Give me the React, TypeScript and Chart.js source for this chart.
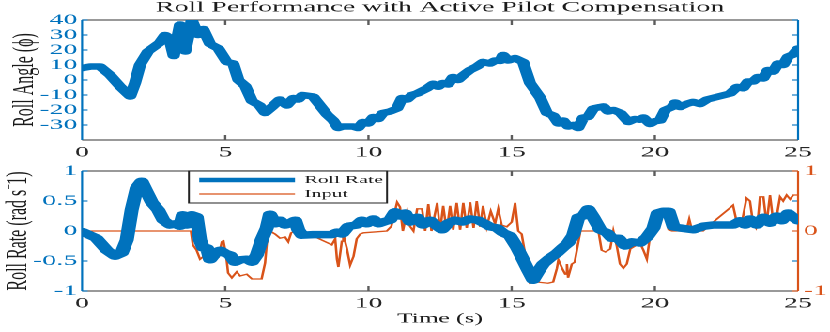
import React, { useEffect, useRef } from 'react';
import { Chart, registerables } from 'chart.js';

Chart.register(...registerables);

// ---------- data ----------
const xTickValues = [0, 5, 10, 15, 20, 25];
const angleTickValues = [-30, -20, -10, 0, 10, 20, 30, 40];
const rateTickValues = [-1, -0.5, 0, 0.5, 1];
const inputTickValues = [-1, 0, 1];

const titleText = 'Roll Performance with Active Pilot Compensation';
const angleLabel = 'Roll Angle (ϕ)';
const rateLabel = 'Roll Rate (rad s⁻1)';
const timeLabel = 'Time (s)';
const seriesNames = ['Roll Rate', 'Input'];

// [time s, roll angle]
const rollAngleData: [number, number][] = [
  [0, 8], [0.3, 9], [0.63, 9], [0.98, 3.3], [1.33, -4.4], [1.68, -11], [1.85, -2], [2.02, 10],
  [2.3, 19], [2.72, 25], [2.9, 30], [3.05, 28], [3.2, 16], [3.42, 37], [3.6, 19], [3.83, 40],
  [4.05, 30], [4.23, 34], [4.47, 24], [4.76, 21], [5.05, 12], [5.28, 11], [5.46, 0], [5.7, -4],
  [5.93, -14], [6.2, -17], [6.39, -22], [6.63, -18], [6.9, -13], [7.15, -17], [7.38, -12],
  [7.55, -13], [7.7, -10], [8.07, -11], [8.55, -23], [8.77, -27], [8.94, -32], [9.1, -31],
  [9.47, -31], [9.64, -32], [9.81, -28], [9.99, -29], [10.17, -24.7], [10.34, -26], [10.5, -22],
  [10.75, -21], [11.0, -19], [11.17, -12], [11.35, -13], [11.52, -10], [11.7, -9], [12.05, -5.5],
  [12.26, -2.5], [12.43, -4.5], [12.6, -2], [12.78, -3], [12.95, 2], [13.13, 0], [13.3, 3],
  [13.55, 6.7], [13.79, 9], [14.0, 12], [14.24, 11], [14.42, 13], [14.6, 12.7], [14.7, 16.7],
  [14.88, 13], [15.12, 14.6], [15.4, 12], [15.64, -2], [16.0, -12], [16.23, -22], [16.45, -23.7],
  [16.63, -29], [16.8, -27], [16.97, -31], [17.15, -30], [17.32, -32], [17.5, -25], [17.67, -24.6],
  [17.85, -19], [18.09, -18], [18.2, -17.6], [18.37, -21], [18.55, -20], [18.8, -22], [19.07, -28],
  [19.3, -26], [19.48, -26.5], [19.6, -25], [19.83, -29.3], [20.0, -27.5], [20.18, -27],
  [20.36, -20], [20.6, -18], [20.71, -15], [20.88, -18], [21.1, -16], [21.33, -14.6], [21.58, -16],
  [21.82, -13], [22.63, -9], [22.87, -4.6], [23.08, -5.5], [23.25, -1], [23.43, -1], [23.6, 2],
  [23.78, 1], [23.95, 6.7], [24.13, 5.6], [24.3, 11], [24.48, 10], [24.65, 15.6], [24.83, 17],
  [25.0, 21],
];

// [time s, roll rate]
const rollRateData: [number, number][] = [
  [0, -0.01], [0.5, -0.12], [0.86, -0.32], [1.15, -0.42], [1.38, -0.37], [1.56, -0.15],
  [1.73, 0.35], [1.91, 0.72], [2.08, 0.83], [2.26, 0.65], [2.43, 0.48], [2.66, 0.35], [2.84, 0.18],
  [3.07, 0.1], [3.25, 0.12], [3.42, 0.08], [3.52, 0.27], [3.66, 0.1], [3.83, 0.27], [4.0, 0.24],
  [4.12, -0.15], [4.23, -0.28], [4.36, -0.28], [4.47, -0.48], [4.64, -0.37], [4.82, -0.32],
  [4.99, -0.37], [5.17, -0.4], [5.34, -0.52], [5.52, -0.48], [5.76, -0.47], [5.93, -0.52],
  [6.1, -0.4], [6.27, -0.15], [6.45, 0.05], [6.56, 0.28], [6.74, 0.12], [6.91, 0.18], [7.09, 0.1],
  [7.26, 0.13], [7.44, 0.18], [7.55, 0.02], [7.68, -0.07], [8.07, -0.06], [8.72, -0.06],
  [8.9, -0.02], [9.08, -0.05], [9.3, 0.08], [9.59, 0.1], [9.77, 0.18], [9.94, 0.12], [10.17, 0.2],
  [10.35, 0.12], [10.58, 0.16], [10.75, 0.18], [10.93, 0.32], [11.1, 0.25], [11.28, 0.3],
  [11.45, 0.15], [11.7, 0.23], [11.9, 0.1], [12.15, 0.18], [12.4, 0.08], [12.57, 0.02],
  [12.78, 0.13], [13.02, 0.18], [13.27, 0.15], [13.55, 0.2], [13.83, 0.18], [14.07, 0.12],
  [14.25, 0.07], [14.49, 0.05], [14.7, -0.03], [14.94, -0.08], [15.18, -0.27], [15.4, -0.48],
  [15.57, -0.65], [15.75, -0.82], [15.92, -0.68], [16.1, -0.55], [16.34, -0.45], [16.58, -0.37],
  [16.8, -0.27], [16.97, -0.2], [17.15, -0.07], [17.33, 0.23], [17.5, 0.25], [17.67, 0.37],
  [17.85, 0.23], [18.09, 0.02], [18.33, -0.03], [18.5, -0.12], [18.73, -0.12], [18.96, -0.25],
  [19.2, -0.18], [19.48, -0.2], [19.73, -0.1], [19.95, 0.05], [20.1, 0.3], [20.3, 0.33],
  [20.48, 0.33], [20.65, 0.07], [20.88, 0.05], [21.35, 0.02], [21.7, 0.08], [22.03, 0.1],
  [22.73, 0.1], [22.97, 0.17], [23.15, 0.1], [23.32, 0.2], [23.56, 0.1], [23.79, 0.23],
  [24.02, 0.13], [24.25, 0.25], [24.43, 0.17], [24.65, 0.3], [24.83, 0.23], [25.0, 0.17],
];

// [time s, pilot input]
const inputData: [number, number][] = [
  [0, 0], [3.8, 0], [3.87, -0.23], [4.0, -0.32], [4.12, -0.47], [4.3, -0.4], [4.4, -0.48],
  [4.58, -0.4], [4.76, -0.43], [4.88, -0.18], [4.93, -0.15], [5.03, -0.4], [5.1, -0.7],
  [5.23, -0.78], [5.4, -0.68], [5.52, -0.75], [5.75, -0.72], [5.93, -0.8], [6.27, -0.8],
  [6.39, -0.53], [6.45, -0.2], [6.56, 0], [6.74, -0.05], [6.91, -0.12], [7.09, -0.1], [7.2, -0.18],
  [7.3, -0.03], [7.44, 0], [7.72, 0], [8.72, -0.23], [8.84, -0.13], [8.9, -0.47], [8.95, -0.6],
  [9.07, -0.17], [9.12, -0.05], [9.25, -0.3], [9.36, -0.57], [9.48, -0.42], [9.59, -0.13],
  [9.71, -0.05], [9.83, -0.03], [10.64, 0], [10.8, 0.08], [11.0, 0.48], [11.1, 0.4], [11.2, 0],
  [11.35, 0.33], [11.45, 0.08], [11.57, 0], [11.7, 0.37], [11.87, 0.37], [11.98, 0], [12.09, 0.45],
  [12.2, 0], [12.4, 0.47], [12.5, 0], [12.61, 0.42], [12.73, 0], [12.85, 0.42], [12.96, 0.02],
  [13.08, 0.47], [13.2, 0.02], [13.31, 0.47], [13.43, 0.05], [13.55, 0.48], [13.67, 0.05],
  [13.78, 0.5], [13.9, 0.07], [14.0, 0.42], [14.13, 0.07], [14.27, 0.33], [14.42, 0.12],
  [14.53, 0.37], [14.65, 0.1], [14.83, 0.07], [15.0, 0.15], [15.12, 0.47], [15.23, 0],
  [15.35, -0.05], [15.64, -0.87], [15.88, -0.85], [16.27, -0.87], [16.45, -0.85], [16.58, -0.62],
  [16.63, -0.48], [16.76, -0.62], [16.87, -0.72], [16.93, -0.55], [16.97, -0.78], [17.1, -0.55],
  [17.2, -0.52], [17.33, -0.18], [17.4, 0], [18.03, 0], [18.14, -0.32], [18.27, -0.35],
  [18.44, -0.3], [18.55, 0], [18.67, -0.25], [18.78, -0.55], [18.9, -0.62], [19.02, -0.55],
  [19.14, -0.3], [19.48, -0.2], [19.6, -0.32], [19.72, -0.47], [19.83, -0.08], [19.95, 0.02],
  [20.12, 0.13], [20.25, 0.3], [20.36, 0.35], [20.48, 0.02], [20.6, 0], [21.1, 0], [21.2, 0.2],
  [21.3, 0], [21.68, 0], [22.73, 0.43], [22.87, 0.12], [23.03, 0.12], [23.2, 0.55], [23.32, 0.5],
  [23.43, 0.12], [23.53, 0.05], [23.6, 0.2], [23.67, 0.57], [23.79, 0.57], [23.9, 0.12],
  [24.02, 0.6], [24.13, 0.17], [24.25, 0.23], [24.37, 0.57], [24.48, 0.5], [24.6, 0.6],
  [24.72, 0.53], [24.83, 0.6], [25, 0.6],
];

// ---------- style ----------
const W = 442;
const SX = 830 / W;
const TOP_H = 165;
const BOT_H = 167;
const BLUE = '#0072BD';
const ORANGE = '#D95319';
const GRAY = '#5c5c5c';
const INK = '#1a1a1a';
const FONT = "'Liberation Serif', 'Times New Roman', serif";
const Y_AXIS_W = 43.7;
const PLOT_RIGHT_GAP = 17;

const toXY = (d: [number, number][]) => d.map(([x, y]) => ({ x, y }));
const fixedTicks = (vals: number[]) => (s: any) => {
  s.ticks = vals.map((v) => ({ value: v }));
};
const plainLabel = (v: any) => String(Number(v));

type FrameOpts = {
  leftColor: string;
  leftTicks: number[];
  rightSegs: { color: string; ticks: number[]; scale: string }[];
  rightColor: string;
};

function framePlugin(o: FrameOpts) {
  return {
    id: 'frame',
    beforeDatasetsDraw(chart: any) {
      const { ctx, chartArea: a, scales } = chart;
      const ln = (x1: number, y1: number, x2: number, y2: number) => {
        ctx.beginPath();
        ctx.moveTo(x1, y1);
        ctx.lineTo(x2, y2);
        ctx.stroke();
      };
      ctx.save();
      ctx.lineCap = 'butt';
      ctx.strokeStyle = GRAY;
      ctx.lineWidth = 1.2;
      ln(a.left, a.top, a.right, a.top);
      ln(a.left, a.bottom, a.right, a.bottom);
      for (const v of xTickValues) {
        if (v === 0 || v === 25) continue;
        const px = scales.x.getPixelForValue(v);
        ln(px, a.top, px, a.top + 5);
        ln(px, a.bottom, px, a.bottom - 5);
      }
      ctx.lineWidth = 1.1;
      ctx.strokeStyle = o.leftColor;
      ln(a.left, a.top, a.left, a.bottom);
      for (const v of o.leftTicks) {
        const py = scales.y.getPixelForValue(v);
        ln(a.left, py, a.left + 3, py);
      }
      for (const seg of o.rightSegs) {
        ctx.strokeStyle = seg.color;
        for (const v of seg.ticks) {
          const py = scales[seg.scale].getPixelForValue(v);
          ln(a.right, py, a.right - 3, py);
        }
      }
      ctx.strokeStyle = o.rightColor;
      ln(a.right, a.top, a.right, a.bottom);
      ctx.restore();
    },
  };
}

const legendPlugin = {
  id: 'boxLegend',
  afterDatasetsDraw(chart: any) {
    const { ctx, chartArea: a } = chart;
    const x0 = 100.6;
    const y0 = a.top;
    const w = 105.5;
    const h = 32;
    ctx.save();
    ctx.fillStyle = '#ffffff';
    ctx.fillRect(x0, y0, w, h);
    ctx.strokeStyle = '#222';
    ctx.lineWidth = 1;
    ctx.strokeRect(x0, y0, w, h);
    ctx.lineCap = 'butt';
    ctx.strokeStyle = BLUE;
    ctx.lineWidth = 4.5;
    ctx.beginPath();
    ctx.moveTo(x0 + 5.5, y0 + 9);
    ctx.lineTo(x0 + 56.5, y0 + 9);
    ctx.stroke();
    ctx.strokeStyle = ORANGE;
    ctx.lineWidth = 1.2;
    ctx.beginPath();
    ctx.moveTo(x0 + 5.5, y0 + 23);
    ctx.lineTo(x0 + 56.5, y0 + 23);
    ctx.stroke();
    ctx.fillStyle = INK;
    ctx.font = `11px ${FONT}`;
    ctx.textBaseline = 'middle';
    ctx.textAlign = 'left';
    ctx.fillText(seriesNames[0], x0 + 61.5, y0 + 9);
    ctx.fillText(seriesNames[1], x0 + 61.5, y0 + 23);
    ctx.restore();
  },
};

const noGrid = { display: false, drawTicks: false, drawOnChartArea: false };

export default function App() {
  const topRef = useRef<HTMLCanvasElement>(null);
  const botRef = useRef<HTMLCanvasElement>(null);

  useEffect(() => {
    Chart.defaults.font.family = FONT;
    const top = new Chart(topRef.current!, {
      type: 'line',
      data: {
        datasets: [
          {
            label: 'Roll Angle',
            data: toXY(rollAngleData),
            borderColor: BLUE,
            borderWidth: 6.5,
            pointRadius: 0,
            tension: 0,
            fill: false,
            borderJoinStyle: 'round',
            borderCapStyle: 'round',
          },
        ],
      },
      options: {
        animation: false,
        responsive: false,
        devicePixelRatio: 2,
        layout: { padding: { top: 0, right: PLOT_RIGHT_GAP, left: 0, bottom: 0 } },
        plugins: {
          legend: { display: false },
          tooltip: { enabled: false },
          title: {
            display: true,
            fullSize: false,
            text: titleText,
            color: INK,
            font: { family: FONT, size: 15, weight: 'normal', lineHeight: 1 },
            padding: { top: 0, bottom: 5 },
          },
        },
        scales: {
          x: {
            type: 'linear',
            min: 0,
            max: 25,
            afterBuildTicks: fixedTicks(xTickValues),
            afterFit: (s: any) => {
              s.height = TOP_H - 140;
              s.paddingLeft = 0;
              s.paddingRight = 0;
            },
            grid: noGrid,
            border: { display: false },
            ticks: {
              color: '#262626',
              padding: 3.5,
              autoSkip: false,
              maxRotation: 0,
              font: { size: 15 },
              callback: plainLabel,
            },
          },
          y: {
            type: 'linear',
            min: -40,
            max: 40,
            afterBuildTicks: fixedTicks(angleTickValues),
            afterFit: (s: any) => {
              s.width = Y_AXIS_W;
              s.paddingTop = 0;
              s.paddingBottom = 0;
            },
            grid: noGrid,
            border: { display: false },
            ticks: { color: BLUE, padding: 2.5, autoSkip: false, font: { size: 15 }, callback: plainLabel },
            title: {
              display: true,
              text: angleLabel,
              color: INK,
              font: { size: 16 },
              padding: { top: 3.7, bottom: 0 },
            },
          },
        },
      },
      plugins: [
        framePlugin({
          leftColor: BLUE,
          leftTicks: angleTickValues,
          rightSegs: [{ color: BLUE, ticks: angleTickValues, scale: 'y' }],
          rightColor: BLUE,
        }),
      ],
    } as any);

    const bot = new Chart(botRef.current!, {
      type: 'line',
      data: {
        datasets: [
          {
            label: seriesNames[0],
            data: toXY(rollRateData),
            borderColor: BLUE,
            borderWidth: 7.5,
            pointRadius: 0,
            tension: 0,
            fill: false,
            yAxisID: 'y',
            borderJoinStyle: 'round',
            borderCapStyle: 'round',
          },
          {
            label: seriesNames[1],
            data: toXY(inputData),
            borderColor: ORANGE,
            borderWidth: 1.3,
            pointRadius: 0,
            tension: 0,
            fill: false,
            yAxisID: 'y2',
          },
        ],
      },
      options: {
        animation: false,
        responsive: false,
        devicePixelRatio: 2,
        layout: { padding: { top: 6, right: 0, left: 0, bottom: 0 } },
        plugins: {
          legend: { display: false },
          tooltip: { enabled: false },
          title: { display: false },
        },
        scales: {
          x: {
            type: 'linear',
            fullSize: false,
            min: 0,
            max: 25,
            afterBuildTicks: fixedTicks(xTickValues),
            afterFit: (s: any) => {
              s.height = BOT_H - 126;
              s.paddingLeft = 0;
              s.paddingRight = 0;
            },
            grid: noGrid,
            border: { display: false },
            ticks: {
              color: '#262626',
              padding: 3.5,
              autoSkip: false,
              maxRotation: 0,
              font: { size: 15 },
              callback: plainLabel,
            },
            title: {
              display: true,
              text: timeLabel,
              color: INK,
              font: { size: 13.5 },
              padding: { top: 0, bottom: 5 },
            },
          },
          y: {
            type: 'linear',
            position: 'left',
            min: -1,
            max: 1,
            afterBuildTicks: fixedTicks(rateTickValues),
            afterFit: (s: any) => {
              s.width = Y_AXIS_W;
              s.paddingTop = 0;
              s.paddingBottom = 0;
            },
            grid: noGrid,
            border: { display: false },
            ticks: { color: BLUE, padding: 2.5, autoSkip: false, font: { size: 15 }, callback: plainLabel },
            title: {
              display: true,
              text: rateLabel,
              color: INK,
              font: { size: 16 },
              padding: { top: 0, bottom: 0 },
            },
          },
          y2: {
            type: 'linear',
            position: 'right',
            min: -1,
            max: 1,
            afterBuildTicks: fixedTicks(inputTickValues),
            afterFit: (s: any) => {
              s.width = PLOT_RIGHT_GAP;
              s.paddingTop = 0;
              s.paddingBottom = 0;
            },
            grid: noGrid,
            border: { display: false },
            ticks: { color: ORANGE, padding: 3, autoSkip: false, font: { size: 15 }, callback: plainLabel },
          },
        },
      },
      plugins: [
        framePlugin({
          leftColor: BLUE,
          leftTicks: rateTickValues,
          rightSegs: [
            { color: BLUE, ticks: [-0.5, 0.5], scale: 'y' },
            { color: ORANGE, ticks: inputTickValues, scale: 'y2' },
          ],
          rightColor: ORANGE,
        }),
        legendPlugin,
      ],
    } as any);

    return () => {
      top.destroy();
      bot.destroy();
    };
  }, []);

  return (
    <div
      style={{
        position: 'fixed',
        left: 0,
        top: 0,
        width: W,
        height: TOP_H + BOT_H,
        transform: `scaleX(${SX})`,
        transformOrigin: '0 0',
        background: '#ffffff',
      }}
    >
      <canvas
        ref={topRef}
        width={W}
        height={TOP_H}
        style={{ position: 'absolute', left: 0, top: 0, width: W, height: TOP_H }}
      />
      <canvas
        ref={botRef}
        width={W}
        height={BOT_H}
        style={{ position: 'absolute', left: 0, top: TOP_H, width: W, height: BOT_H }}
      />
    </div>
  );
}
